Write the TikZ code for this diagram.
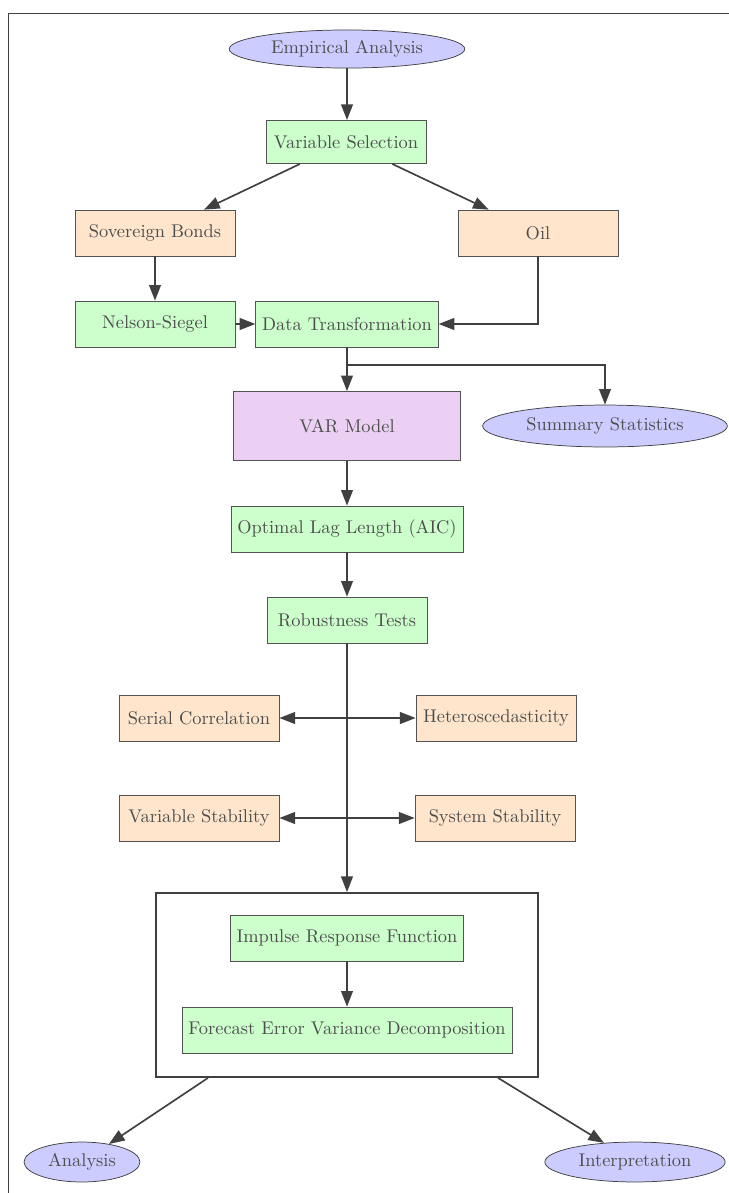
\documentclass[tikz,border=0pt]{standalone}
\usetikzlibrary{shapes.geometric,arrows.meta,calc}
\definecolor{linec}{HTML}{404040}
\definecolor{txtc}{HTML}{4D4D4D}
\definecolor{bluef}{HTML}{CCCCFF}
\definecolor{greenf}{HTML}{CCFFCC}
\definecolor{orangef}{HTML}{FFE5CC}
\definecolor{violetf}{HTML}{EBD0F3}
\begin{document}
\begin{tikzpicture}[x=0.5435pt,y=-0.5435pt,
 box/.style={rectangle,draw=linec!90,text=txtc,minimum width=87pt,minimum height=25pt,inner sep=3.5pt},
 gbox/.style={box,fill=greenf},
 obox/.style={box,fill=orangef},
 oval/.style={ellipse,draw=linec,fill=bluef,text=txtc,inner sep=0pt},
 tip/.tip={Triangle[length=8.5pt,width=6.4pt]},
 arr/.style={draw=linec,line width=0.9pt,-tip},
 darr/.style={draw=linec,line width=0.9pt,tip-tip},
 plain/.style={draw=linec,line width=0.9pt}]
\useasboundingbox (0,0) rectangle (729,1193);
\draw[linec,line width=0.5pt] (729,13) -- (8,13) -- (8,1193);

\node[oval,minimum width=128pt,minimum height=20.7pt] (ea) at (347,49) {Empirical Analysis};
\node[gbox,minimum height=23.5pt] (vs) at (346,142) {Variable Selection};
\node[obox] (sb) at (155,233) {Sovereign Bonds};
\node[obox] (oil) at (538,233) {Oil};
\node[gbox] (ns) at (155,324) {Nelson-Siegel};
\node[gbox] (dt) at (347,324) {Data Transformation};
\node[box,fill=violetf,minimum width=123pt,minimum height=37.5pt] (var) at (347,426) {VAR Model};
\node[oval,minimum width=133pt,minimum height=22.8pt] (ss) at (605,426) {Summary Statistics};
\node[gbox] (lag) at (347,529) {Optimal Lag Length (AIC)};
\node[gbox] (rt) at (347,620) {Robustness Tests};
\node[obox] (sc) at (199,718) {Serial Correlation};
\node[obox] (het) at (496,718) {Heteroscedasticity};
\node[obox] (vst) at (199,818) {Variable Stability};
\node[obox] (sst) at (495,818) {System Stability};
\node[draw=linec,line width=1pt,minimum width=207.6pt,minimum height=100pt] (fr) at (347,985) {};
\node[gbox] (irf) at (347,938) {Impulse Response Function};
\node[gbox] (fevd) at (347,1030) {Forecast Error Variance Decomposition};
\node[oval,minimum width=63pt,minimum height=21.7pt] (an) at (82,1162) {Analysis};
\node[oval,minimum width=98pt,minimum height=21.7pt] (int) at (635,1162) {Interpretation};

\draw[arr] (ea.south) -- (ea.south |- vs.north);
\draw[arr] (vs) -- (sb);
\draw[arr] (vs) -- (oil);
\draw[arr] (sb) -- (ns);
\draw[arr] (ns) -- (dt);
\draw[arr] (oil.south) |- (dt.east);
\draw[arr] (dt) -- (var);
\coordinate (br) at ($(dt.south)!0.4!(var.north)$);
\draw[arr] (br) -| (ss.north);
\draw[arr] (var) -- (lag);
\draw[arr] (lag) -- (rt);
\draw[arr] (rt.south) -- (rt.south |- fr.north);
\draw[darr] (sc) -- (het);
\draw[darr] (vst) -- (sst);
\draw[arr] (irf) -- (fevd);
\draw[arr] (fr) -- (an);
\draw[arr] (fr) -- (int);
\end{tikzpicture}
\end{document}
